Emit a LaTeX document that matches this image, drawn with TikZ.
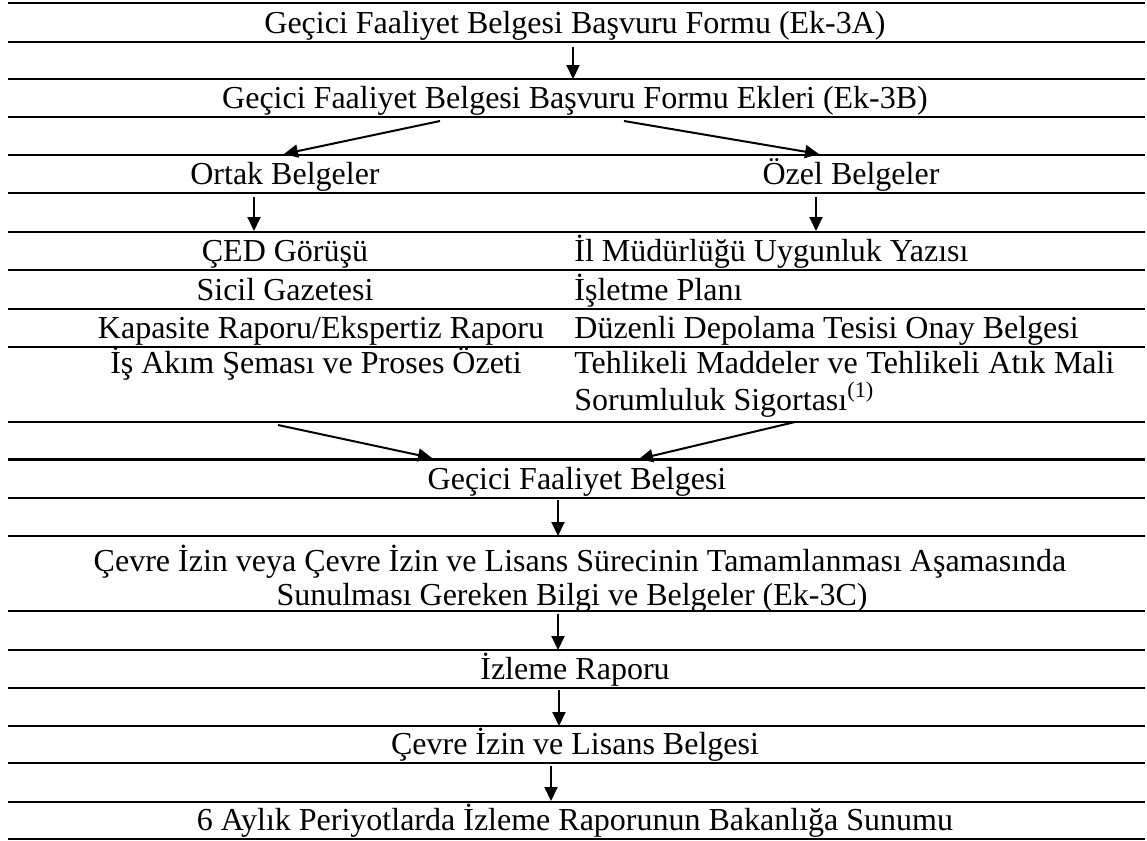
\documentclass[tikz,border=0pt]{standalone}
\usepackage{fontspec}
\setmainfont{Liberation Serif}
\usetikzlibrary{arrows.meta}
\tikzset{
  rule/.style={line width=1.1pt},
  arr/.style={line width=1pt,-{Triangle[length=7pt,width=6.5pt]}},
  ctext/.style={anchor=base,inner sep=0pt,font=\fontsize{16}{19}\selectfont},
  ltext/.style={anchor=base west,inner sep=0pt,font=\fontsize{16}{19}\selectfont},
}
\begin{document}
\begin{tikzpicture}[x=0.5pt,y=-0.5pt]
\useasboundingbox (0,0) rectangle (1147,841);
% horizontal rules
\foreach \yy in {3,41.7,79,117,155,193.3,231.7,270,309,347.3,421.7,459.5,497.7,536,610.7,650,687.7,726,763.3,801.7,839}
  \draw[rule] (8,\yy) -- (1145,\yy);
% texts
\node[ctext] (t1) at (575,33) {Geçici Faaliyet Belgesi Başvuru Formu (Ek-3A)};
\node[ctext] (t2) at (575,108) {Geçici Faaliyet Belgesi Başvuru Formu Ekleri (Ek-3B)};
\node[ctext] (ortak) at (285,184) {Ortak Belgeler};
\node[ctext] (ozel) at (851,184) {Özel Belgeler};
\node[ctext] (ced) at (285,261) {ÇED Görüşü};
\node[ctext] (sicil) at (285,300) {Sicil Gazetesi};
\node[ctext] (kapasite) at (321,338) {Kapasite Raporu/Ekspertiz Raporu};
\node[ctext] (isakim) at (316,373) {İş Akım Şeması ve Proses Özeti};
\node[ltext] (ilmud) at (574,261) {İl Müdürlüğü Uygunluk Yazısı};
\node[ltext] (isletme) at (574,300) {İşletme Planı};
\node[ltext] (duzenli) at (574,338) {Düzenli Depolama Tesisi Onay Belgesi};
\node[ltext] (tehlike) at (574,373) {\makebox[270pt][s]{Tehlikeli Maddeler ve Tehlikeli Atık Mali}};
\node[ltext] (sorum) at (574,410) {Sorumluluk Sigortası\textsuperscript{(1)}};
\node[ctext] (gfb) at (577,489) {Geçici Faaliyet Belgesi};
\node[ctext] (cevre1) at (580,571) {Çevre İzin veya Çevre İzin ve Lisans Sürecinin Tamamlanması Aşamasında};
\node[ctext] (cevre2) at (572,605) {Sunulması Gereken Bilgi ve Belgeler (Ek-3C)};
\node[ctext] (izleme) at (575,679) {İzleme Raporu};
\node[ctext] (lisans) at (575,754) {Çevre İzin ve Lisans Belgesi};
\node[ctext] (sunum) at (575,830) {6 Aylık Periyotlarda İzleme Raporunun Bakanlığa Sunumu};
% arrow end points
\coordinate (a1s) at (573,47);  \coordinate (a1e) at (573,79);
\coordinate (a2s) at (440,121); \coordinate (a2e) at (284,154);
\coordinate (a3s) at (624,121); \coordinate (a3e) at (819,154);
\coordinate (a4s) at (254,197); \coordinate (a4e) at (254,231);
\coordinate (a5s) at (816,197); \coordinate (a5e) at (816,231);
\coordinate (a6s) at (278,425); \coordinate (a6e) at (432,458);
\coordinate (a7s) at (795,422); \coordinate (a7e) at (639,459);
\coordinate (a8s) at (558,500); \coordinate (a8e) at (558,536);
\coordinate (a9s) at (558,614); \coordinate (a9e) at (558,650);
\coordinate (a10s) at (559,690); \coordinate (a10e) at (559,726);
\coordinate (a11s) at (551,766); \coordinate (a11e) at (551,801);
\foreach \i in {1,...,11}
  \draw[arr] (a\i s) -- (a\i e);
\end{tikzpicture}
\end{document}
